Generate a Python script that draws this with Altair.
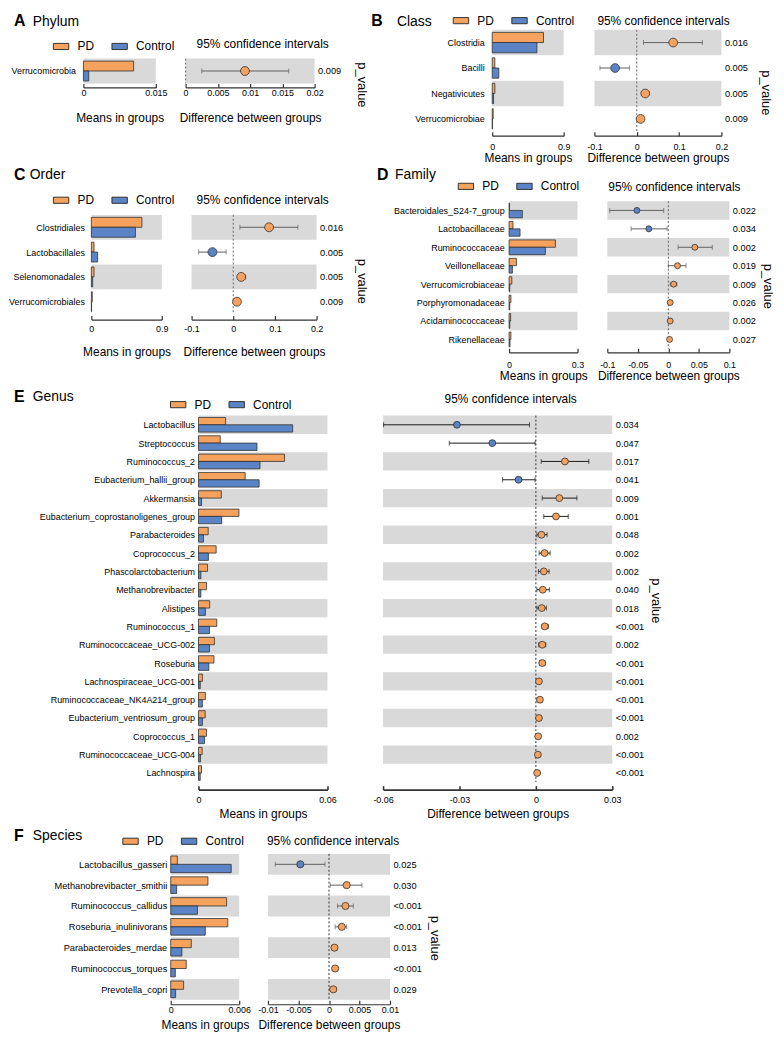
import json
import pandas as pd
import altair as alt

# ---------------- data ----------------
# A  Phylum
phylum_names = ["Verrucomicrobia"]
phylum_pd = [0.0104]
phylum_ctrl = [0.0011]
phylum_diff = [0.0092]
phylum_lo = [0.0025]
phylum_hi = [0.0160]
phylum_p = ["0.009"]
phylum_mean_ticks = [0, 0.015]
phylum_diff_ticks = [0, 0.005, 0.01, 0.015, 0.02]

# B  Class
class_names = ["Clostridia", "Bacilli", "Negativicutes", "Verrucomicrobiae"]
class_pd = [0.646, 0.033, 0.033, 0.012]
class_ctrl = [0.563, 0.083, 0.017, 0.003]
class_diff = [0.086, -0.051, 0.020, 0.009]
class_lo = [0.016, -0.087, 0.012, 0.004]
class_hi = [0.155, -0.017, 0.029, 0.014]
class_p = ["0.016", "0.005", "0.005", "0.009"]
class_mean_ticks = [0, 0.9]
class_diff_ticks = [-0.1, 0, 0.1, 0.2]

# C  Order
order_names = ["Clostridiales", "Lactobacillales", "Selenomonadales", "Verrucomicrobiales"]
order_pd = [0.646, 0.034, 0.034, 0.012]
order_ctrl = [0.563, 0.080, 0.017, 0.003]
order_diff = [0.086, -0.050, 0.019, 0.009]
order_lo = [0.016, -0.083, 0.011, 0.004]
order_hi = [0.155, -0.017, 0.030, 0.014]
order_p = ["0.016", "0.005", "0.005", "0.009"]
order_mean_ticks = [0, 0.9]
order_diff_ticks = [-0.1, 0, 0.1, 0.2]

# D  Family
family_names = ["Bacteroidales_S24-7_group", "Lactobacillaceae", "Ruminococcaceae", "Veillonellaceae",
                "Verrucomicrobiaceae", "Porphyromonadaceae", "Acidaminococcaceae", "Rikenellaceae"]
family_pd = [0.002, 0.017, 0.203, 0.032, 0.012, 0.008, 0.007, 0.008]
family_ctrl = [0.058, 0.048, 0.159, 0.0145, 0.003, 0.003, 0.003, 0.004]
family_diff = [-0.0515, -0.032, 0.0434, 0.015, 0.0087, 0.003, 0.003, 0.002]
family_lo = [-0.096, -0.061, 0.016, 0.000, 0.003, 0.0005, 0.0005, -0.0005]
family_hi = [-0.0076, -0.002, 0.072, 0.029, 0.014, 0.0055, 0.0055, 0.0045]
family_p = ["0.022", "0.034", "0.002", "0.019", "0.009", "0.026", "0.002", "0.027"]
family_mean_ticks = [0, 0.3]
family_diff_ticks = [-0.1, -0.05, 0, 0.05, 0.1]

# E  Genus
genus_names = ["Lactobacillus", "Streptococcus", "Ruminococcus_2", "Eubacterium_hallii_group", "Akkermansia",
               "Eubacterium_coprostanoligenes_group", "Parabacteroides", "Coprococcus_2",
               "Phascolarctobacterium", "Methanobrevibacter", "Alistipes", "Ruminococcus_1",
               "Ruminococcaceae_UCG-002", "Roseburia", "Lachnospiraceae_UCG-001",
               "Ruminococcaceae_NK4A214_group", "Eubacterium_ventriosum_group", "Coprococcus_1",
               "Ruminococcaceae_UCG-004", "Lachnospira"]
genus_pd = [0.0126, 0.0101, 0.0400, 0.0217, 0.0106, 0.0188, 0.0045, 0.0082, 0.0042, 0.0037,
            0.0052, 0.0085, 0.0074, 0.0072, 0.0018, 0.0032, 0.0031, 0.0037, 0.0017, 0.0014]
genus_ctrl = [0.0438, 0.0272, 0.0286, 0.0282, 0.0014, 0.0108, 0.0023, 0.0046, 0.0011, 0.0011,
              0.0032, 0.0051, 0.0051, 0.0048, 0.0008, 0.0018, 0.0018, 0.0028, 0.0009, 0.0008]
genus_diff = [-0.0310, -0.0171, 0.0114, -0.0068, 0.0092, 0.0079, 0.0022, 0.0034, 0.0031, 0.0027,
              0.0023, 0.0035, 0.0025, 0.0025, 0.0012, 0.0016, 0.0012, 0.0009, 0.0008, 0.0005]
genus_lo = [-0.0598, -0.0340, 0.0021, -0.0131, 0.0025, 0.0031, 0.0004, 0.0013, 0.0010, 0.0004,
            0.0004, 0.0024, 0.0011, 0.0014, 0.0004, 0.0005, 0.0004, 0.0000, 0.0000, -0.0001]
genus_hi = [-0.0025, -0.0003, 0.0208, -0.0003, 0.0161, 0.0127, 0.0044, 0.0056, 0.0052, 0.0053,
            0.0041, 0.0049, 0.0039, 0.0036, 0.0019, 0.0025, 0.0021, 0.0018, 0.0016, 0.0012]
genus_p = ["0.034", "0.047", "0.017", "0.041", "0.009", "0.001", "0.048", "0.002", "0.002", "0.040",
           "0.018", "<0.001", "0.002", "<0.001", "<0.001", "<0.001", "<0.001", "0.002", "<0.001", "<0.001"]
genus_mean_ticks = [0, 0.06]
genus_diff_ticks = [-0.06, -0.03, 0, 0.03]

# F  Species
species_names = ["Lactobacillus_gasseri", "Methanobrevibacter_smithii", "Ruminococcus_callidus",
                 "Roseburia_inulinivorans", "Parabacteroides_merdae", "Ruminococcus_torques", "Prevotella_copri"]
species_pd = [0.00058, 0.00326, 0.0049, 0.0050, 0.0018, 0.00136, 0.00113]
species_ctrl = [0.0053, 0.00052, 0.00234, 0.00303, 0.00098, 0.0004, 0.00043]
species_diff = [-0.0047, 0.0029, 0.0027, 0.0021, 0.0009, 0.0010, 0.0007]
species_lo = [-0.0088, 0.0002, 0.0014, 0.0010, 0.0004, 0.0006, 0.0002]
species_hi = [-0.00065, 0.0054, 0.0040, 0.0029, 0.0013, 0.0014, 0.0012]
species_p = ["0.025", "0.030", "<0.001", "<0.001", "0.013", "<0.001", "0.029"]
species_mean_ticks = [0, 0.006]
species_diff_ticks = [-0.01, -0.005, 0, 0.005, 0.01]

# ---------------- style / layout ----------------
FONT = "Liberation Sans"
ORANGE = "#F4A25E"
BLUE = "#5A84C5"
BAND = "#D9D9D9"
EDGE = "#333333"
BLACK = "#000000"
MARGIN = 8
W, H = 768, 1023
TICK = 4


def px(v):
    return v - MARGIN


# page-pixel layout of every panel
LAYOUT = {
    "A": dict(letter=(8, 16), name=(27, 17), title="Phylum", legend=(47, 42), ci_title=(192, 39),
              mean_x=(78, 151), diff_x=(181, 311), rows=(54, 79), axis_y=83, tick_y=89, title_y=113,
              pv=(358, 80), gap=8, point=80, err="#606060", zero="#666666", aw=1.2, lab=9),
    "B": dict(letter=(368, 16), name=(394, 17), title="Class", legend=(450, 16), ci_title=(596, 16),
              mean_x=(490, 562), diff_x=(593, 721), rows=(25, 127.6), axis_y=131.7, tick_y=144, title_y=154,
              pv=(765, 88), gap=8, point=78, err="#606060", zero="#666666", aw=1.2, lab=9),
    "C": dict(letter=(8, 171), name=(24, 171), title="Order", legend=(47, 197), ci_title=(192, 197),
              mean_x=(86, 157), diff_x=(187, 313), rows=(211.5, 311.5), axis_y=317, tick_y=327, title_y=349,
              pv=(358, 278), gap=7, point=80, err="#606060", zero="#666666", aw=1.2, lab=9),
    "D": dict(letter=(374, 171), name=(392, 171), title="Family", legend=(455, 183), ci_title=(607, 183),
              mean_x=(507, 576), diff_x=(606, 729), rows=(197.7, 346.3), axis_y=350, tick_y=363, title_y=373,
              pv=(767, 283), gap=5, point=36, err="#606060", zero="#666666", aw=1.2, lab=9),
    "E": dict(letter=(8, 395), name=(27, 395), title="Genus", legend=(165, 403), ci_title=(442, 397),
              mean_x=(194, 324), diff_x=(380, 611), rows=(413.8, 783.2), axis_y=790.7, tick_y=802, title_y=815,
              pv=(655, 600), gap=4, point=48, err="#1a1a1a", zero="#333333", aw=1.6, lab=9),
    "F": dict(letter=(8, 837), name=(27, 837), title="Species", legend=(117, 843), ci_title=(263, 843),
              mean_x=(166, 235), diff_x=(264, 387), rows=(855.5, 1002.5), axis_y=1007, tick_y=1013, title_y=1027,
              pv=(432, 940), gap=4, point=52, err="#606060", zero="#333333", aw=1.2, lab=9.3),
}


def text_layer(s, x, y, size, weight="normal", align="left"):
    return alt.Chart(pd.DataFrame({"t": [s]})).mark_text(
        font=FONT, fontSize=size, fontWeight=weight, align=align, baseline="middle", color=BLACK
    ).encode(x=alt.value(px(x)), y=alt.value(px(y)), text="t:N")


def panel(key, names, pdv, ctv, diff, lo, hi, pvals, mticks, dticks):
    L = LAYOUT[key]
    n = len(names)
    idx = list(range(n))
    yscale = alt.Scale(domain=[-0.5, n - 0.5], range=[px(L["rows"][0]), px(L["rows"][1])], nice=False, zero=False)
    mscale = alt.Scale(domain=[mticks[0], mticks[-1]], range=[px(L["mean_x"][0]), px(L["mean_x"][1])],
                       nice=False, zero=False)
    dscale = alt.Scale(domain=[dticks[0], dticks[-1]], range=[px(L["diff_x"][0]), px(L["diff_x"][1])],
                       nice=False, zero=False)
    cscale = alt.Scale(domain=["PD", "Control"], range=[ORANGE, BLUE])

    lab = dict(labelFont=FONT, labelColor=BLACK, labelFlush=False, labelOverlap=False, grid=False)
    tick_pad = L["tick_y"] - L["axis_y"] - 5 + TICK

    def xaxis(ticks, title):
        return alt.Axis(orient="bottom", offset=px(L["axis_y"]) - H, values=ticks, labelExpr="'' + datum.value",
                        labelFontSize=9, labelPadding=tick_pad, tickSize=alt.ExprRef(expr=str(-TICK)),
                        tickColor=EDGE, tickWidth=L["aw"], domainColor=EDGE, domainWidth=L["aw"], title=title,
                        titleFont=FONT, titleFontSize=12, titleFontWeight="normal", titleColor=BLACK,
                        titleY=L["title_y"] - L["axis_y"], titleBaseline="middle", **lab)

    mean_axis = xaxis(mticks, "Means in groups")
    diff_axis = xaxis(dticks, "Difference between groups")
    left_axis = alt.Axis(orient="left", offset=-px(L["mean_x"][0]), values=idx,
                         labelExpr=json.dumps(names) + "[datum.value]", labelPadding=L["gap"], domain=False,
                         ticks=False, labelAlign="right", labelBaseline="middle", labelLimit=400,
                         labelFontSize=L["lab"], title=None, **lab)
    right_axis = alt.Axis(orient="right", offset=px(L["diff_x"][1]) - W, values=idx,
                          labelExpr=json.dumps(pvals) + "[datum.value]", labelPadding=3, domain=False,
                          ticks=False, labelAlign="left", labelBaseline="middle", labelFontSize=9.3,
                          title="p_value", titleFont=FONT,
                          titleFontSize=13, titleFontWeight="normal", titleColor=BLACK, titleAngle=90,
                          titleX=L["pv"][0] - L["diff_x"][1], titleY=px(L["pv"][1]), titleBaseline="middle",
                          titleAlign="center", **lab)

    legend = alt.Legend(orient="none", legendX=px(L["legend"][0]), legendY=px(L["legend"][1]) - 9,
                        direction="horizontal", title=None, symbolType="M-1,-0.4H1V0.4H-1Z", symbolSize=240,
                        symbolStrokeColor=EDGE, symbolStrokeWidth=1, symbolOpacity=1, labelFont=FONT,
                        labelFontSize=12, labelColor=BLACK, labelOffset=8, columnPadding=15, padding=0)

    even = [i for i in idx if i % 2 == 0]
    band_m = pd.DataFrame({"y0": [i - 0.5 for i in even], "y1": [i + 0.5 for i in even],
                           "xa": mticks[0], "xb": mticks[-1]})
    band_d = pd.DataFrame({"y0": [i - 0.5 for i in even], "y1": [i + 0.5 for i in even],
                           "xa": dticks[0], "xb": dticks[-1]})
    bars = pd.DataFrame({
        "group": ["PD"] * n + ["Control"] * n,
        "val": list(pdv) + list(ctv),
        "y0": [i - 0.4 for i in idx] + [float(i) for i in idx],
        "y1": [float(i) for i in idx] + [i + 0.4 for i in idx],
        "zero": 0.0,
    })
    ci = pd.DataFrame({"idx": idx, "est": diff, "lo": lo, "hi": hi,
                       "dir": ["PD" if d > 0 else "Control" for d in diff]})
    zero = pd.DataFrame({"zx": [0.0], "zy0": [-0.5], "zy1": [n - 0.5]})

    MX = lambda f: alt.X(f, type="quantitative", scale=mscale, axis=mean_axis)
    DX = lambda f: alt.X(f, type="quantitative", scale=dscale, axis=diff_axis)
    LY = lambda f: alt.Y(f, type="quantitative", scale=yscale, axis=left_axis)
    RY = lambda f: alt.Y(f, type="quantitative", scale=yscale, axis=right_axis)

    bar_group = alt.layer(
        alt.Chart(band_m).mark_rect(color=BAND).encode(x=MX("xa"), x2="xb:Q", y=LY("y0"), y2="y1:Q"),
        alt.Chart(bars).mark_rect(stroke=EDGE, strokeWidth=0.8).encode(
            x=MX("val"), x2="zero:Q", y=LY("y0"), y2="y1:Q",
            color=alt.Color("group:N", scale=cscale, legend=legend)),
    )
    ci_group = alt.layer(
        alt.Chart(band_d).mark_rect(color=BAND).encode(x=DX("xa"), x2="xb:Q", y=RY("y0"), y2="y1:Q"),
        alt.Chart(zero).mark_rule(color=L["zero"], strokeDash=[2, 2], strokeWidth=1).encode(
            x=DX("zx"), y=RY("zy0"), y2="zy1:Q"),
        alt.Chart(ci).mark_rule(color=L["err"], strokeWidth=1).encode(x=DX("lo"), x2="hi:Q", y=RY("idx")),
        alt.Chart(ci).mark_tick(orient="vertical", size=5, thickness=1, color=L["err"]).encode(
            x=DX("lo"), y=RY("idx")),
        alt.Chart(ci).mark_tick(orient="vertical", size=5, thickness=1, color=L["err"]).encode(
            x=DX("hi"), y=RY("idx")),
        alt.Chart(ci).mark_circle(size=L["point"], stroke=EDGE, strokeWidth=0.8, opacity=1).encode(
            x=DX("est"), y=RY("idx"), color=alt.Color("dir:N", scale=cscale, legend=None)),
    )
    texts = [
        text_layer(key, L["letter"][0], L["letter"][1], 16, weight="bold"),
        text_layer(L["title"], L["name"][0], L["name"][1], 14),
        text_layer("95% confidence intervals", L["ci_title"][0], L["ci_title"][1], 12),
    ]
    return [bar_group, ci_group] + texts


layers = []
layers += panel("A", phylum_names, phylum_pd, phylum_ctrl, phylum_diff, phylum_lo, phylum_hi, phylum_p,
                phylum_mean_ticks, phylum_diff_ticks)
layers += panel("B", class_names, class_pd, class_ctrl, class_diff, class_lo, class_hi, class_p,
                class_mean_ticks, class_diff_ticks)
layers += panel("C", order_names, order_pd, order_ctrl, order_diff, order_lo, order_hi, order_p,
                order_mean_ticks, order_diff_ticks)
layers += panel("D", family_names, family_pd, family_ctrl, family_diff, family_lo, family_hi, family_p,
                family_mean_ticks, family_diff_ticks)
layers += panel("E", genus_names, genus_pd, genus_ctrl, genus_diff, genus_lo, genus_hi, genus_p,
                genus_mean_ticks, genus_diff_ticks)
layers += panel("F", species_names, species_pd, species_ctrl, species_diff, species_lo, species_hi, species_p,
                species_mean_ticks, species_diff_ticks)

chart = alt.layer(*layers).resolve_scale(
    x="independent", y="independent", color="independent"
).resolve_axis(
    x="independent", y="independent"
).resolve_legend(
    color="independent"
).properties(
    width=W, height=H, padding=0
).configure_view(stroke=None)

chart.save("out.html", embed_options={"renderer": "svg", "actions": False})
